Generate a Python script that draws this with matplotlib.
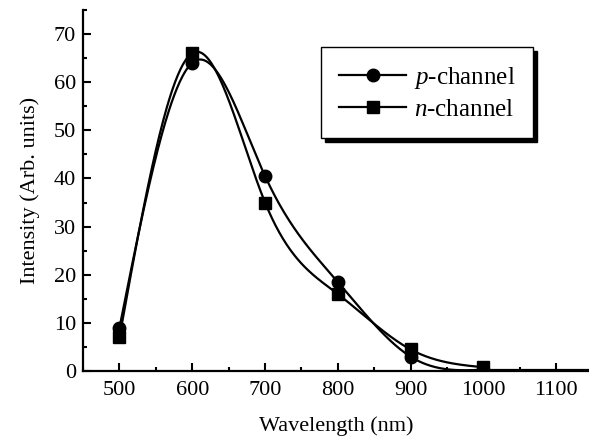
import numpy as np
import matplotlib.pyplot as plt
from matplotlib.lines import Line2D

plt.rcParams['font.family'] = ['Liberation Serif', 'DejaVu Serif']
plt.rcParams['mathtext.fontset'] = 'custom'
plt.rcParams['mathtext.it'] = 'Liberation Serif:italic'
plt.rcParams['mathtext.rm'] = 'Liberation Serif'

wavelength = [500, 600, 700, 800, 900, 1000]
p_channel = [9.0, 64.0, 40.5, 18.5, 3.0, 0.3]
n_channel = [7.0, 66.0, 35.0, 16.0, 4.5, 0.8]


def natural_spline(x, y, xs):
    # plain natural cubic spline, only to draw a smooth line through the points
    x = np.asarray(x, float)
    y = np.asarray(y, float)
    n = len(x)
    h = np.diff(x)
    A = np.zeros((n, n))
    r = np.zeros(n)
    A[0, 0] = A[-1, -1] = 1
    for i in range(1, n - 1):
        A[i, i - 1] = h[i - 1]
        A[i, i] = 2 * (h[i - 1] + h[i])
        A[i, i + 1] = h[i]
        r[i] = 6 * ((y[i + 1] - y[i]) / h[i] - (y[i] - y[i - 1]) / h[i - 1])
    m = np.linalg.solve(A, r)
    out = np.empty_like(xs)
    for k, xv in enumerate(xs):
        i = min(max(np.searchsorted(x, xv) - 1, 0), n - 2)
        t = xv - x[i]
        a = (m[i + 1] - m[i]) / (6 * h[i])
        b = m[i] / 2
        c = (y[i + 1] - y[i]) / h[i] - h[i] * (2 * m[i] + m[i + 1]) / 6
        out[k] = y[i] + c * t + b * t ** 2 + a * t ** 3
    return np.clip(out, 0, None)


fig = plt.figure(figsize=(5.89, 4.45), dpi=100)
ax = fig.add_axes([0.141, 0.166, 0.859, 0.812])

xs = np.linspace(500, 1000, 400)
for vals, mk in [(p_channel, 'o'), (n_channel, 's')]:
    ax.plot(xs, natural_spline(wavelength, vals, xs), color='black', lw=1.6)
    ax.plot(wavelength, vals, ls='none', marker=mk, ms=9, color='black')
ax.plot([1000, 1145], [0.2, 0.2], color='black', lw=1.6)

ax.set_xlim(450, 1145)
ax.set_ylim(0, 75)
ax.set_xticks([500, 600, 700, 800, 900, 1000, 1100])
ax.set_xticks(np.arange(450, 1150, 50), minor=True)
ax.set_yticks(np.arange(0, 80, 10))
ax.set_yticks(np.arange(0, 80, 5), minor=True)
ax.tick_params(which='both', direction='in', width=1.5, labelsize=16)
ax.tick_params(which='major', length=6)
ax.tick_params(which='minor', length=3)
ax.tick_params(axis='x', pad=7)
ax.tick_params(axis='y', pad=5)
for s in ['top', 'right']:
    ax.spines[s].set_visible(False)
for s in ['left', 'bottom']:
    ax.spines[s].set_linewidth(1.6)

ax.set_xlabel('Wavelength (nm)', fontsize=16, labelpad=12)
ax.set_ylabel('Intensity (Arb. units)', fontsize=16, labelpad=10)

handles = [Line2D([], [], color='black', lw=1.6, marker='o', ms=9),
           Line2D([], [], color='black', lw=1.6, marker='s', ms=9)]
leg = ax.legend(handles, [r'$p$-channel', r'$n$-channel'], loc='upper right',
                bbox_to_anchor=(0.889, 0.897), fontsize=18, fancybox=False,
                shadow={'color': 'black', 'alpha': 1, 'ox': 3, 'oy': -3},
                edgecolor='black', handlelength=2.7, handletextpad=0.3,
                borderpad=0.7, borderaxespad=0, labelspacing=0.3)
leg.get_frame().set_linewidth(1.0)

fig.savefig('out.png', dpi=100)
